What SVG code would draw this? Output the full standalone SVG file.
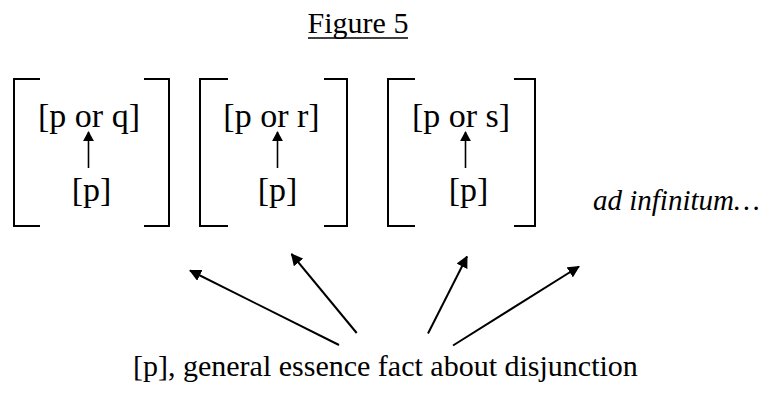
<svg xmlns="http://www.w3.org/2000/svg" width="768" height="393" viewBox="0 0 768 393">
<style>
.t{font-family:"Liberation Serif","Times New Roman",serif;fill:#000}
.b{fill:none;stroke:#000;stroke-width:2}
.c{stroke:#000;stroke-width:2;fill:none}
.s{stroke:#000;stroke-width:1.6;fill:none}
</style>
<defs>
<marker id="ah" viewBox="0 0 12 12" refX="11" refY="6" markerWidth="12" markerHeight="12" markerUnits="userSpaceOnUse" orient="auto">
<path d="M0,0 L12,6 L0,12 Z" fill="#000"/>
</marker>
<marker id="sh" viewBox="0 0 11 12" refX="10" refY="6" markerWidth="10" markerHeight="12" markerUnits="userSpaceOnUse" orient="auto">
<path d="M0,0 L11,6 L0,12 Z" fill="#000"/>
</marker>
</defs>
<g id="title">
<text class="t" x="358" y="33" font-size="30" text-anchor="middle">Figure 5</text>
<line x1="308" y1="38" x2="408" y2="38" stroke="#000" stroke-width="1.6"/>
</g>
<g id="box1">
<path class="b" d="M40,79 H14 V226 H40 M144,79 H169 V226 H144"/>
<text class="t" x="89" y="127" font-size="34" text-anchor="middle">[p or q]</text>
<line class="s" x1="88.5" y1="168" x2="88.5" y2="132" marker-end="url(#sh)"/>
<text class="t" x="91.5" y="201" font-size="34" text-anchor="middle">[p]</text>
</g>
<g id="box2">
<path class="b" d="M228,79 H200 V226 H228 M324,79 H347 V226 H324"/>
<text class="t" x="271.5" y="127" font-size="34" text-anchor="middle">[p or r]</text>
<line class="s" x1="277.5" y1="168" x2="277.5" y2="132" marker-end="url(#sh)"/>
<text class="t" x="277.5" y="201" font-size="34" text-anchor="middle">[p]</text>
</g>
<g id="box3">
<path class="b" d="M415,79 H388 V226 H415 M514,79 H535 V226 H514"/>
<text class="t" x="461" y="127" font-size="34" text-anchor="middle">[p or s]</text>
<line class="s" x1="465.5" y1="168" x2="465.5" y2="132" marker-end="url(#sh)"/>
<text class="t" x="468.5" y="201" font-size="34" text-anchor="middle">[p]</text>
</g>
<g id="adinf">
<text class="t" x="593" y="210" font-size="29" font-style="italic">ad infinitum…</text>
</g>
<g id="general">
<text class="t" x="133" y="376" font-size="30">[p], general essence fact about disjunction</text>
</g>
<g id="connectors">
<line class="c" x1="339" y1="345" x2="190" y2="270.5" marker-end="url(#ah)"/>
<line class="c" x1="356.7" y1="333" x2="291.5" y2="254" marker-end="url(#ah)"/>
<line class="c" x1="428" y1="333.5" x2="467" y2="256.5" marker-end="url(#ah)"/>
<line class="c" x1="453" y1="345.5" x2="579" y2="266.5" marker-end="url(#ah)"/>
</g>
</svg>
